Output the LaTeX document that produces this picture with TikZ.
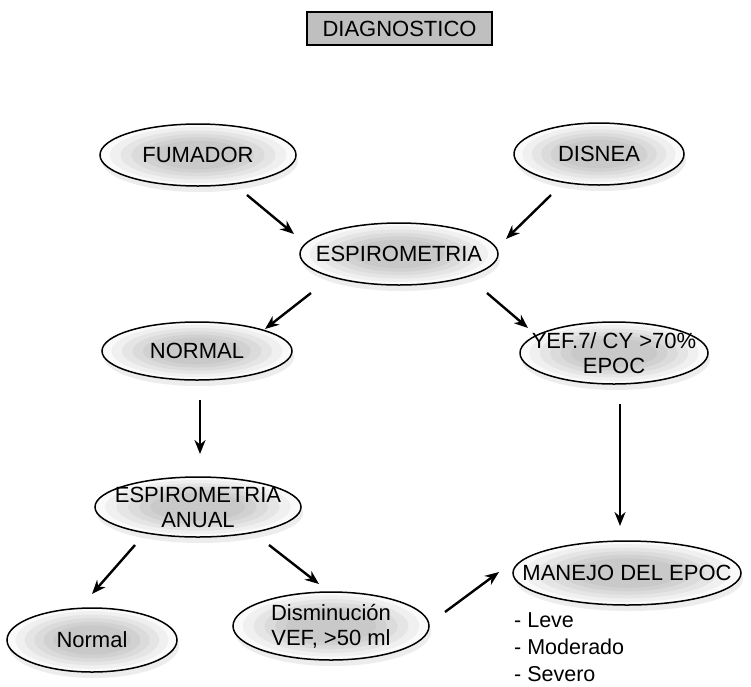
\documentclass[tikz,border=0pt]{standalone}
\usepackage{fontspec}
\setmainfont{Liberation Sans}
\usetikzlibrary{shapes.geometric,arrows.meta}
\begin{document}
\begin{tikzpicture}[x=1pt,y=-1pt,
  every node/.style={font=\fontsize{22}{25}\selectfont, text=black},
  shd/.style 2 args={ellipse, fill=black!7, inner sep=0pt, minimum width=#1pt, minimum height=#2pt},
  ell/.style 2 args={ellipse, draw=black, line width=1.5pt, fill=black!2, inner sep=0pt,
    minimum width=#1pt, minimum height=#2pt,
    path picture={\foreach \s/\c in {0.9/6, 0.79/10, 0.68/14, 0.57/18, 0.46/21}
      \fill[black!\c] (path picture bounding box.center) ellipse [x radius={\s*#1*0.5pt}, y radius={\s*#2*0.5pt}];}},
  lbl/.style={align=center, inner sep=0pt},
  arr/.style={line width=2.4pt, -{Stealth[length=14pt,width=11pt]}}]
\useasboundingbox (0,0) rectangle (751,686);
\fill[white] (0,0) rectangle (751,686);
\node[draw=black, line width=1.2pt, fill=black!25, minimum width=185pt, minimum height=33pt, inner sep=0pt] (diag) at (399.5,28.5) {DIAGNOSTICO};
% shadows
\foreach \p/\w/\h in {{(200,161)}/196/62, {(601,160)}/170/62, {(401,260)}/198/62, {(199,357)}/190/58, {(616,359)}/188/62, {(200,513)}/206/60, {(629,579)}/228/64, {(94,646)}/170/64, {(333,632)}/196/68}
  \path \p node[shd={\w}{\h}] {};
\node[ell={196}{62}] (fum) at (198,155) {};
\node[ell={170}{62}] (dis) at (599,154) {};
\node[ell={198}{62}] (esp) at (399,254) {};
\node[ell={190}{58}] (nor) at (197,351) {};
\node[ell={188}{62}] (yef) at (614,353) {};
\node[ell={206}{60}] (anu) at (198,507) {};
\node[ell={228}{64}] (man) at (627,573) {};
\node[ell={170}{64}] (nrm) at (92,640) {};
\node[ell={196}{68}] (dim) at (331,626) {};
\node[lbl] (fumt) at (fum) {FUMADOR};
\node[lbl] (dist) at (dis) {DISNEA};
\node[lbl] (espt) at (esp) {ESPIROMETRIA};
\node[lbl] (nort) at (nor) {NORMAL};
\node[lbl] (yeft) at (yef) {YEF.7/ CY >70\%\\EPOC};
\node[lbl] (anut) at (anu) {ESPIROMETRIA\\ANUAL};
\node[lbl] (mant) at (man) {MANEJO DEL EPOC};
\node[lbl] (nrmt) at (nrm) {Normal};
\node[lbl] (dimt) at (dim) {Disminución\\VEF, >50 ml};
\node[anchor=north west, align=left, inner sep=0pt, font=\fontsize{21.5}{27}\selectfont] (lst) at (514,612) {- Leve\\- Moderado\\- Severo};
% arrow ends
\coordinate (a1s) at (247,195); \coordinate (a1e) at (294,234);
\coordinate (a2s) at (551,195); \coordinate (a2e) at (506,239);
\coordinate (a3s) at (311,293); \coordinate (a3e) at (265,329);
\coordinate (a4s) at (487,293); \coordinate (a4e) at (528,328);
\coordinate (a5s) at (200,400); \coordinate (a5e) at (200,454);
\coordinate (a6s) at (620,404); \coordinate (a6e) at (620,526);
\coordinate (a7s) at (135,545); \coordinate (a7e) at (92,594);
\coordinate (a8s) at (269,545); \coordinate (a8e) at (319,584);
\coordinate (a9s) at (445,612); \coordinate (a9e) at (499,572);
\draw[arr] (a1s) -- (a1e);
\draw[arr] (a2s) -- (a2e);
\draw[arr] (a3s) -- (a3e);
\draw[arr] (a4s) -- (a4e);
\draw[arr] (a5s) -- (a5e);
\draw[arr] (a6s) -- (a6e);
\draw[arr] (a7s) -- (a7e);
\draw[arr] (a8s) -- (a8e);
\draw[arr] (a9s) -- (a9e);
\end{tikzpicture}
\end{document}
